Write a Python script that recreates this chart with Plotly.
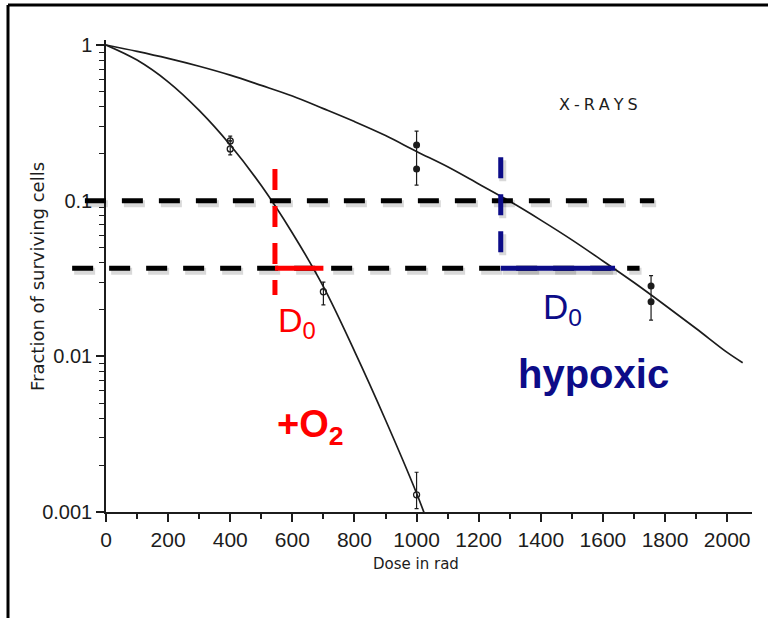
import math
import plotly.graph_objects as go

# ---- survival curves (dose in rad, surviving fraction) ----
oxic_dose = [0, 100, 200, 300, 400, 500, 600, 700, 800, 900, 1000, 1030]
oxic_surv = [1.0, 0.80, 0.58, 0.38, 0.228, 0.125, 0.062, 0.028, 0.0108, 0.0039, 0.00132, 0.00092]

hypoxic_dose = [0, 100, 200, 300, 400, 500, 600, 700, 800, 900, 1000, 1100, 1200, 1300,
                1400, 1500, 1600, 1700, 1800, 1900, 2000, 2050]
hypoxic_surv = [1.0, 0.91, 0.82, 0.73, 0.64, 0.55, 0.47, 0.39, 0.322, 0.262, 0.207, 0.165,
                0.128, 0.099, 0.075, 0.056, 0.041, 0.0298, 0.0213, 0.0151, 0.0106, 0.0091]

# ---- measured points with error ranges ----
oxic_pt_dose = [400, 400, 700, 1000]
oxic_pt_surv = [0.242, 0.215, 0.026, 0.00129]
oxic_pt_hi = [0.26, 0.242, 0.030, 0.0018]
oxic_pt_lo = [0.242, 0.197, 0.0214, 0.00105]

hyp_pt_dose = [1000, 1000, 1755, 1755]
hyp_pt_surv = [0.228, 0.16, 0.0283, 0.0224]
hyp_pt_hi = [0.28, 0.16, 0.033, 0.0224]
hyp_pt_lo = [0.16, 0.126, 0.0224, 0.0171]

# ---- D0 construction ----
ref_levels = [0.1, 0.1 / math.e]
ref_start = [-68, -109]
ref_end = [1765, 1718]

oxic_d0_dose = [544, 700]        # dose at S=0.1 and end of the D0 bar
oxic_d0_vspan = [0.16, 0.0248]
hyp_d0_dose = [1271, 1639]
hyp_d0_vspan = [0.19, ref_levels[1]]

x_ticks = list(range(0, 2001, 200))
x_minor = list(range(100, 2000, 200))
y_ticks = [1, 0.1, 0.01, 0.001]
y_ticktext = ["1", "0.1", "0.01", "0.001"]
y_minor = [m * 10 ** e for e in (-3, -2, -1) for m in range(2, 10)]

W, H = 768, 618
X_DOM = [106 / W, 752 / W]
X_RANGE = [0, 2080]
Y_DOM = [1 - 512 / H, 1 - 40 / H]
Y_RANGE = [-3, 0.032]

# Full-page overlay axes carrying the same dose / log-fraction scales,
# so the construction lines can run past the plotting area.
sx = (X_RANGE[1] - X_RANGE[0]) / (X_DOM[1] - X_DOM[0])
sy = (Y_RANGE[1] - Y_RANGE[0]) / (Y_DOM[1] - Y_DOM[0])
X2_RANGE = [X_RANGE[0] - X_DOM[0] * sx, X_RANGE[0] + (1 - X_DOM[0]) * sx]
Y2_RANGE = [Y_RANGE[0] - Y_DOM[0] * sy, Y_RANGE[0] + (1 - Y_DOM[0]) * sy]
DOSE_PER_PX = sx / W
DEC_PER_PX = sy / H

INK = "#1c1c1c"
RED = "#ff0000"
NAVY = "#0c0c88"
SHADOW = "rgba(0,0,0,0.15)"
SCAN_FONT = "Liberation Sans"
DASH = "21px,16px"

fig = go.Figure()

fig.add_trace(go.Scatter(x=hypoxic_dose, y=hypoxic_surv, mode="lines",
                         line=dict(color=INK, width=1.7, shape="spline")))
fig.add_trace(go.Scatter(x=oxic_dose, y=oxic_surv, mode="lines",
                         line=dict(color=INK, width=1.7, shape="spline")))

fig.add_trace(go.Scatter(
    x=oxic_pt_dose, y=oxic_pt_surv, mode="markers",
    marker=dict(symbol="circle-open", size=6, color=INK, line=dict(width=1.3)),
    error_y=dict(type="data", symmetric=False,
                 array=[h - s for h, s in zip(oxic_pt_hi, oxic_pt_surv)],
                 arrayminus=[s - l for s, l in zip(oxic_pt_surv, oxic_pt_lo)],
                 color=INK, thickness=1.2, width=2)))
fig.add_trace(go.Scatter(
    x=hyp_pt_dose, y=hyp_pt_surv, mode="markers",
    marker=dict(symbol="circle", size=7, color=INK),
    error_y=dict(type="data", symmetric=False,
                 array=[h - s for h, s in zip(hyp_pt_hi, hyp_pt_surv)],
                 arrayminus=[s - l for s, l in zip(hyp_pt_surv, hyp_pt_lo)],
                 color=INK, thickness=1.2, width=2)))

segments = []   # (dose pair, fraction pair, colour, dash, shadow)
for lvl, x0, x1 in zip(ref_levels, ref_start, ref_end):
    segments.append(([x0, x1], [lvl, lvl], "black", DASH, True))
segments.append(([oxic_d0_dose[0]] * 2, oxic_d0_vspan, RED, DASH, False))
segments.append((oxic_d0_dose, [ref_levels[1]] * 2, RED, None, False))
segments.append(([hyp_d0_dose[0]] * 2, hyp_d0_vspan, NAVY, DASH, True))
segments.append((hyp_d0_dose, [ref_levels[1]] * 2, NAVY, None, True))

# soft drop shadows first (2 px right, 3 px down), then the lines themselves
for xs, ys, color, dash, shadow in segments:
    if shadow:
        fig.add_trace(go.Scatter(
            x=[v + 2 * DOSE_PER_PX for v in xs], y=[v * 10 ** (-3 * DEC_PER_PX) for v in ys],
            mode="lines", xaxis="x2", yaxis="y2",
            line=dict(color=SHADOW, width=7, dash=dash)))
for xs, ys, color, dash, shadow in segments:
    fig.add_trace(go.Scatter(x=xs, y=ys, mode="lines", xaxis="x2", yaxis="y2",
                             line=dict(color=color, width=5, dash=dash)))


def px(xp, yp):
    return dict(xref="paper", yref="paper", x=xp / W, y=1 - yp / H)


SP = "\u2005"
ann = [
    dict(text=SP.join("X-RAYS"), font=dict(family="DejaVu Sans", size=16, color=INK),
         xanchor="center", yanchor="middle", **px(598, 104)),
    dict(text="Dose in rad", font=dict(family="DejaVu Sans", size=15, color=INK),
         xanchor="center", yanchor="middle", **px(416, 564)),
    dict(text="Fraction of surviving cells", textangle=-90,
         font=dict(family="DejaVu Sans", size=18, color=INK),
         xanchor="center", yanchor="middle", **px(38, 277)),
    dict(text="D<sub>0</sub>", font=dict(family="Liberation Sans", size=34, color=RED),
         xanchor="left", yanchor="middle", **px(276, 322)),
    dict(text="D<sub>0</sub>", font=dict(family="Liberation Sans", size=35, color=NAVY),
         xanchor="left", yanchor="middle", **px(541, 309)),
    dict(text="<b>hypoxic</b>", font=dict(family="Liberation Sans", size=40, color=NAVY),
         xanchor="center", yanchor="middle", **px(593, 374)),
    dict(text="<b>+O<sub>2</sub></b>", font=dict(family="Liberation Sans", size=38, color=RED),
         xanchor="left", yanchor="middle", **px(275, 427)),
]
for a in ann:
    a["showarrow"] = False
fig.update_layout(annotations=ann)

# slide frame (left and top rules)
fig.add_shape(type="line", xref="paper", yref="paper", x0=8 / W, x1=8 / W, y0=0, y1=1 - 5 / H,
              line=dict(color="black", width=3))
fig.add_shape(type="line", xref="paper", yref="paper", x0=8 / W, x1=1, y0=1 - 5 / H, y1=1 - 5 / H,
              line=dict(color="black", width=3))

fig.update_layout(
    width=W, height=H, margin=dict(l=0, r=0, t=0, b=0, pad=0, autoexpand=False),
    paper_bgcolor="white", plot_bgcolor="rgba(0,0,0,0)", showlegend=False,
    xaxis=dict(domain=X_DOM, range=X_RANGE, showgrid=False, zeroline=False, automargin=False,
               showline=True, linecolor=INK, linewidth=1.5,
               tickmode="array", tickvals=x_ticks, ticks="outside", ticklen=8,
               tickwidth=1.5, tickcolor=INK, ticklabelstandoff=0,
               tickfont=dict(family=SCAN_FONT, size=21, color=INK),
               minor=dict(tickvals=x_minor, ticks="outside", ticklen=5, tickwidth=1.5, tickcolor=INK)),
    yaxis=dict(domain=Y_DOM, type="log", range=Y_RANGE, showgrid=False, zeroline=False, automargin=False,
               showline=True, linecolor=INK, linewidth=1.5,
               tickmode="array", tickvals=y_ticks, ticktext=y_ticktext,
               ticks="outside", ticklen=8, tickwidth=1.5, tickcolor=INK,
               tickfont=dict(family=SCAN_FONT, size=20, color=INK),
               minor=dict(tickvals=y_minor, ticks="outside", ticklen=5, tickwidth=1.3, tickcolor=INK)),
    xaxis2=dict(domain=[0, 1], range=X2_RANGE, anchor="y2", visible=False,
                showgrid=False, zeroline=False, automargin=False),
    yaxis2=dict(domain=[0, 1], range=Y2_RANGE, type="log", anchor="x2", visible=False,
                showgrid=False, zeroline=False, automargin=False),
)

fig.write_html("out.html")
